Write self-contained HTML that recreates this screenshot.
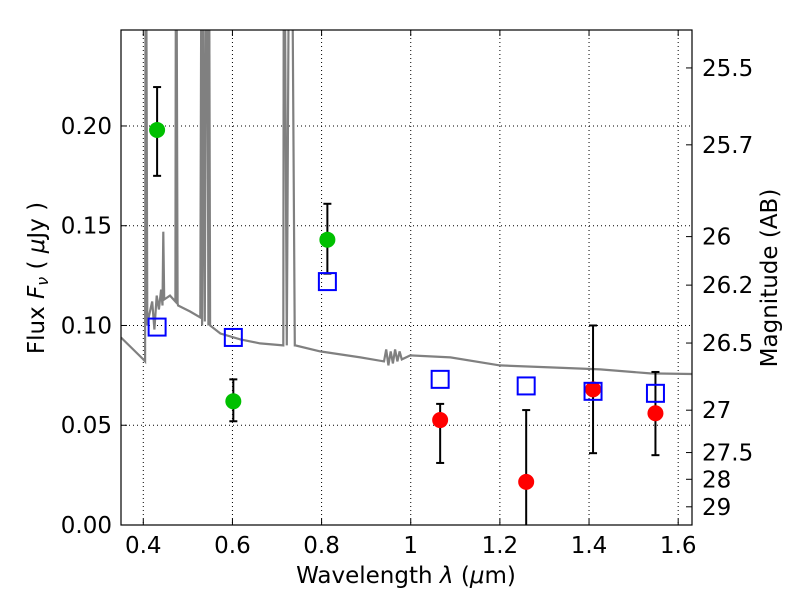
<!DOCTYPE html>
<html><head><meta charset="utf-8"><style>
body{margin:0;background:#fff;font-family:"Liberation Sans","DejaVu Sans",sans-serif}
svg text{font-family:"DejaVu Sans","Liberation Sans",sans-serif}
</style></head><body>
<svg id="c" width="800" height="600" xmlns="http://www.w3.org/2000/svg"></svg>
<script>
const specWave=[0.35,0.40,0.404,0.405,0.407,0.409,0.411,0.42,0.425,0.43,0.435,0.44,0.443,0.445,0.447,0.46,0.472,0.473,0.475,0.477,0.478,0.505,0.528,0.53,0.532,0.535,0.538,0.541,0.544,0.546,0.548,0.55,0.573,0.618,0.662,0.714,0.715,0.718,0.722,0.726,0.73,0.735,0.74,0.741,0.797,0.887,0.94,0.945,0.95,0.955,0.96,0.965,0.97,0.975,0.98,0.999,1.089,1.20,1.313,1.425,1.537,1.63];
const specFlux=[0.094,0.083,0.082,0.26,0.26,0.10,0.103,0.112,0.098,0.115,0.108,0.118,0.110,0.147,0.113,0.115,0.112,0.26,0.26,0.111,0.110,0.107,0.104,0.26,0.10,0.26,0.102,0.26,0.26,0.10,0.26,0.100,0.096,0.093,0.091,0.090,0.26,0.26,0.09,0.26,0.26,0.26,0.09,0.090,0.087,0.084,0.082,0.088,0.080,0.087,0.081,0.088,0.082,0.087,0.083,0.085,0.084,0.080,0.079,0.078,0.076,0.0757];
const greenWave=[0.431,0.602,0.813];
const greenFlux=[0.198,0.062,0.143];
const greenLo=[0.175,0.052,0.126];
const greenHi=[0.2195,0.073,0.161];
const redWave=[1.066,1.259,1.409,1.549];
const redFlux=[0.0526,0.0216,0.068,0.056];
const redLo=[0.0311,-0.02,0.036,0.035];
const redHi=[0.0607,0.0576,0.100,0.0767];
const modelWave=[0.431,0.602,0.813,1.066,1.259,1.409,1.549];
const modelFlux=[0.0992,0.094,0.122,0.073,0.0697,0.067,0.066];
const xTicks=[0.4,0.6,0.8,1.0,1.2,1.4,1.6];
const xTickLabels=["0.4","0.6","0.8","1","1.2","1.4","1.6"];
const yTicks=[0,0.05,0.10,0.15,0.20];
const yTickLabels=["0.00","0.05","0.10","0.15","0.20"];
const magTicks=[25.5,25.7,26,26.2,26.5,27,27.5,28,29];
const magTickLabels=["25.5","25.7","26","26.2","26.5","27","27.5","28","29"];

const L=121,R=692,T=30,B=525,X0=0.35,X1=1.631,Y0=0,Y1=0.2481;
const FS=23;
const sx=v=>L+(v-X0)/(X1-X0)*(R-L);
const sy=v=>B-(v-Y0)/(Y1-Y0)*(B-T);
const svg=document.getElementById('c');
const NS='http://www.w3.org/2000/svg';
function mk(tag,attrs,parent){const e=document.createElementNS(NS,tag);for(const k in attrs)e.setAttribute(k,attrs[k]);(parent||svg).appendChild(e);return e;}

const defs=mk('defs',{});
const cp=mk('clipPath',{id:'clip'},defs);
mk('rect',{x:L,y:T,width:R-L,height:B-T},cp);

xTicks.forEach((t,i)=>{
  const g=mk('line',{x1:sx(t),x2:sx(t),y1:T,y2:B,stroke:'#000','stroke-dasharray':'1,3','stroke-width':1});
  
  
  const tk=mk('line',{x1:sx(t),x2:sx(t),y1:B,y2:B-6,stroke:'#000'});
  
  
  mk('line',{x1:sx(t),x2:sx(t),y1:T,y2:T+6,stroke:'#000'});
  const tx=mk('text',{x:sx(t),y:B+28,'text-anchor':'middle','font-size':FS});
  tx.textContent=xTickLabels[i];
  
  
});
yTicks.forEach((t,i)=>{
  if(t>0){const g=mk('line',{x1:L,x2:R,y1:sy(t),y2:sy(t),stroke:'#000','stroke-dasharray':'1,3','stroke-width':1});
  
  }
  mk('line',{x1:L,x2:L+6,y1:sy(t),y2:sy(t),stroke:'#000'});
  const tx=mk('text',{x:L-9,y:sy(t)+8,'text-anchor':'end','font-size':FS});
  tx.textContent=yTickLabels[i];
  
  
});
magTicks.forEach((m,i)=>{
  const f=Math.pow(10,(23.9-m)/2.5);
  mk('line',{x1:R,x2:R-6,y1:sy(f),y2:sy(f),stroke:'#000'});
  const tx=mk('text',{x:R+10,y:sy(f)+8,'font-size':FS});
  tx.textContent=magTickLabels[i];
  
  
});

const gp=mk('g',{'clip-path':'url(#clip)'});
let d=specWave.map((w,i)=>(i?'L':'M')+sx(w).toFixed(1)+','+sy(specFlux[i]).toFixed(1)).join('');
const sp=mk('path',{d:d,fill:'none',stroke:'#808080','stroke-width':2.2},gp);



function err(x,lo,hi){
  const e=mk('g',{stroke:'#000','stroke-width':2},gp);
  
  
  mk('line',{x1:sx(x),x2:sx(x),y1:sy(lo),y2:sy(hi)},e);
  mk('line',{x1:sx(x)-4,x2:sx(x)+4,y1:sy(lo),y2:sy(lo)},e);
  mk('line',{x1:sx(x)-4,x2:sx(x)+4,y1:sy(hi),y2:sy(hi)},e);
}
greenWave.forEach((w,i)=>{
  err(w,greenLo[i],greenHi[i]);
  const c=mk('circle',{cx:sx(w),cy:sy(greenFlux[i]),r:8,fill:'#00c000'},gp);
  
  
});
redWave.forEach((w,i)=>{
  err(w,redLo[i],redHi[i]);
  const c=mk('circle',{cx:sx(w),cy:sy(redFlux[i]),r:8,fill:'#ff0000'},gp);
  
  
});
modelWave.forEach((w,i)=>{
  const r=mk('rect',{x:sx(w)-8.5,y:sy(modelFlux[i])-8.5,width:17,height:17,fill:'none',stroke:'#0000ff','stroke-width':2},gp);
  
  
});

const fr=mk('rect',{x:L,y:T,width:R-L,height:B-T,fill:'none',stroke:'#000','stroke-width':1.2});



const xl=mk('text',{x:406,y:583,'text-anchor':'middle','font-size':FS});
xl.innerHTML='Wavelength  <tspan font-style="italic">λ</tspan> (<tspan font-style="italic">μ</tspan>m)';


const yl=mk('text',{x:0,y:0,'text-anchor':'middle','font-size':FS,transform:'translate(44,278) rotate(-90)'});
yl.innerHTML='Flux  <tspan font-style="italic">F</tspan><tspan font-style="italic" font-size="16" dy="4">ν</tspan><tspan dy="-4">  (  </tspan><tspan font-style="italic">μ</tspan>Jy )';


const rl=mk('text',{x:0,y:0,'text-anchor':'middle','font-size':FS,transform:'translate(777,278) rotate(-90)'});
rl.textContent='Magnitude (AB)';


</script>
</body></html>
